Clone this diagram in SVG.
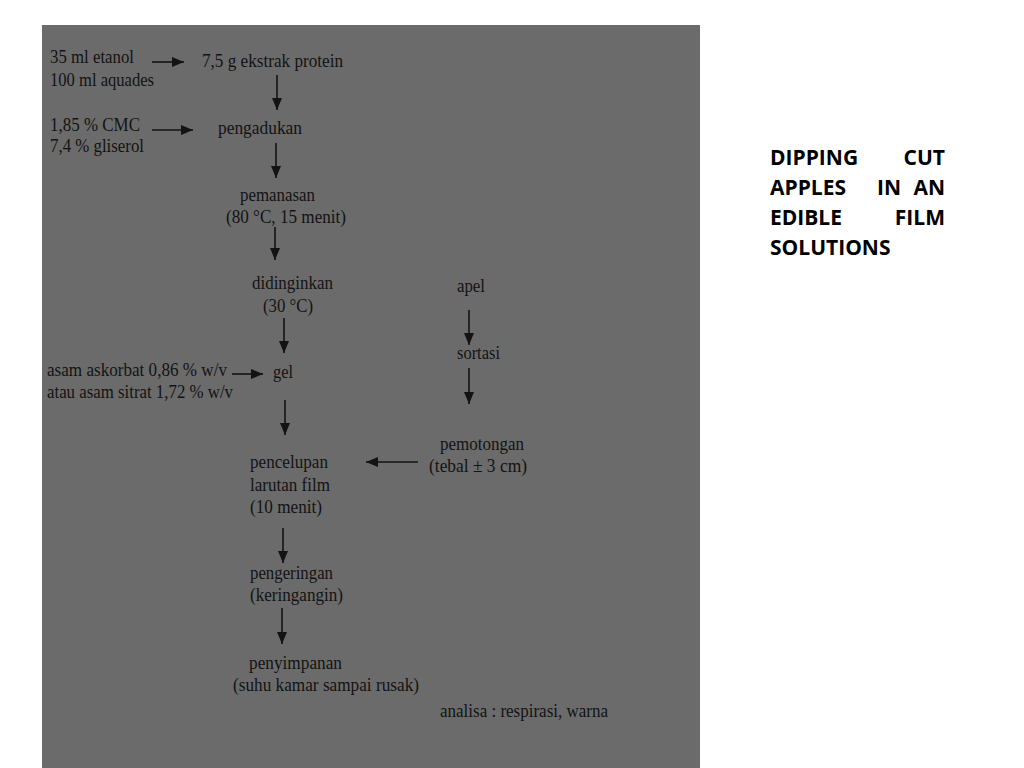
<svg xmlns="http://www.w3.org/2000/svg" width="1024" height="768" viewBox="0 0 1024 768">
<defs>
<style>
.t{font-family:"Liberation Serif","Times New Roman",serif;font-size:19.5px;fill:#131313}
.h{font-family:"Open Sans","Liberation Sans",sans-serif;font-size:21px;font-weight:bold;fill:#000}
.c line{stroke:#131313;stroke-width:1.6;fill:none}
</style>
<marker id="ah" markerUnits="userSpaceOnUse" markerWidth="12" markerHeight="10" refX="12" refY="5" orient="auto" viewBox="0 0 12 10">
<path d="M0,0 L12,5 L0,10 z" fill="#131313"/>
</marker>
</defs>
<rect width="1024" height="768" fill="#ffffff"/>
<rect x="42" y="25" width="658" height="743" fill="#6b6b6b"/>

<g id="n-etanol"><text class="t" x="50" y="63" textLength="84" lengthAdjust="spacingAndGlyphs">35 ml etanol</text><text class="t" x="50" y="86" textLength="104" lengthAdjust="spacingAndGlyphs">100 ml aquades</text></g>
<g id="n-protein"><text class="t" x="202" y="67" textLength="141" lengthAdjust="spacingAndGlyphs">7,5 g ekstrak protein</text></g>
<g id="n-cmc"><text class="t" x="50" y="131" textLength="90" lengthAdjust="spacingAndGlyphs">1,85 % CMC</text><text class="t" x="50" y="152" textLength="94" lengthAdjust="spacingAndGlyphs">7,4 % gliserol</text></g>
<g id="n-pengadukan"><text class="t" x="218" y="134" textLength="84" lengthAdjust="spacingAndGlyphs">pengadukan</text></g>
<g id="n-pemanasan"><text class="t" x="240" y="201" textLength="75" lengthAdjust="spacingAndGlyphs">pemanasan</text><text class="t" x="226" y="223" textLength="120" lengthAdjust="spacingAndGlyphs">(80 °C, 15 menit)</text></g>
<g id="n-didinginkan"><text class="t" x="252" y="289" textLength="81" lengthAdjust="spacingAndGlyphs">didinginkan</text><text class="t" x="263" y="312" textLength="50" lengthAdjust="spacingAndGlyphs">(30 °C)</text></g>
<g id="n-asam"><text class="t" x="47" y="376" textLength="180" lengthAdjust="spacingAndGlyphs">asam askorbat 0,86 % w/v</text><text class="t" x="47" y="398" textLength="186" lengthAdjust="spacingAndGlyphs">atau asam sitrat 1,72 % w/v</text></g>
<g id="n-gel"><text class="t" x="273" y="378" textLength="20" lengthAdjust="spacingAndGlyphs">gel</text></g>
<g id="n-apel"><text class="t" x="457" y="292" textLength="28" lengthAdjust="spacingAndGlyphs">apel</text></g>
<g id="n-sortasi"><text class="t" x="457" y="359" textLength="43" lengthAdjust="spacingAndGlyphs">sortasi</text></g>
<g id="n-pemotongan"><text class="t" x="440" y="450" textLength="84" lengthAdjust="spacingAndGlyphs">pemotongan</text><text class="t" x="429" y="472" textLength="98" lengthAdjust="spacingAndGlyphs">(tebal ± 3 cm)</text></g>
<g id="n-pencelupan"><text class="t" x="250" y="468" textLength="78" lengthAdjust="spacingAndGlyphs">pencelupan</text><text class="t" x="250" y="491" textLength="80" lengthAdjust="spacingAndGlyphs">larutan film</text><text class="t" x="250" y="513" textLength="72" lengthAdjust="spacingAndGlyphs">(10 menit)</text></g>
<g id="n-pengeringan"><text class="t" x="250" y="579" textLength="83" lengthAdjust="spacingAndGlyphs">pengeringan</text><text class="t" x="250" y="601" textLength="93" lengthAdjust="spacingAndGlyphs">(keringangin)</text></g>
<g id="n-penyimpanan"><text class="t" x="249" y="669" textLength="93" lengthAdjust="spacingAndGlyphs">penyimpanan</text><text class="t" x="233" y="691" textLength="186" lengthAdjust="spacingAndGlyphs">(suhu kamar sampai rusak)</text></g>
<g id="n-analisa"><text class="t" x="440" y="717" textLength="168" lengthAdjust="spacingAndGlyphs">analisa : respirasi, warna</text></g>

<g id="title">
<text class="h" x="770" y="165">DIPPING</text><text class="h" x="945" y="165" text-anchor="end">CUT</text>
<text class="h" x="770" y="195">APPLES</text><text class="h" x="877" y="195">IN</text><text class="h" x="945" y="195" text-anchor="end">AN</text>
<text class="h" x="770" y="225">EDIBLE</text><text class="h" x="945" y="225" text-anchor="end">FILM</text>
<text class="h" x="770" y="255">SOLUTIONS</text>
</g>

<g id="connectors" class="c">
<line x1="152" y1="62" x2="184" y2="62" marker-end="url(#ah)"/>
<line x1="277" y1="75" x2="277" y2="110" marker-end="url(#ah)"/>
<line x1="152" y1="130" x2="193" y2="130" marker-end="url(#ah)"/>
<line x1="276" y1="143" x2="276" y2="178" marker-end="url(#ah)"/>
<line x1="275" y1="227" x2="275" y2="260" marker-end="url(#ah)"/>
<line x1="284" y1="318" x2="284" y2="353" marker-end="url(#ah)"/>
<line x1="232" y1="374" x2="263" y2="374" marker-end="url(#ah)"/>
<line x1="285" y1="400" x2="285" y2="435" marker-end="url(#ah)"/>
<line x1="469" y1="310" x2="469" y2="345" marker-end="url(#ah)"/>
<line x1="469" y1="368" x2="469" y2="404" marker-end="url(#ah)"/>
<line x1="418" y1="462" x2="366" y2="462" marker-end="url(#ah)"/>
<line x1="283" y1="528" x2="283" y2="563" marker-end="url(#ah)"/>
<line x1="282" y1="608" x2="282" y2="644" marker-end="url(#ah)"/>
</g>
</svg>
